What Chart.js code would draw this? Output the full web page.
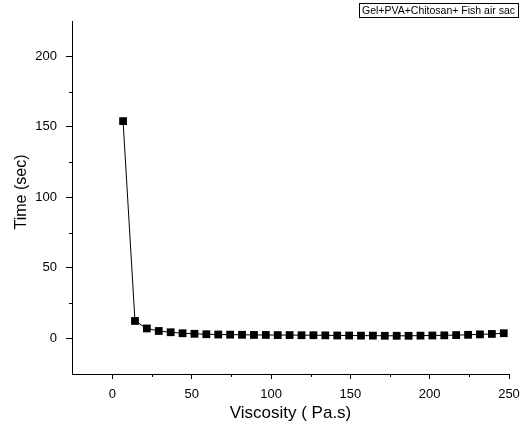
<!DOCTYPE html>
<html>
<head>
<meta charset="utf-8">
<script src="https://cdn.jsdelivr.net/npm/chart.js@4"></script>
<style>
html,body{margin:0;padding:0;background:#fff;}
#wrap{width:521px;height:430px;}
</style>
</head>
<body>
<div id="wrap"><canvas id="c" width="521" height="430"></canvas></div>
<script>
const viscosity = [6.7, 14.2, 21.7, 29.2, 36.7, 44.2, 51.7, 59.2, 66.7, 74.2, 81.7, 89.2, 96.7, 104.2, 111.7, 119.2, 126.7, 134.2, 141.7, 149.2, 156.7, 164.2, 171.7, 179.2, 186.7, 194.2, 201.7, 209.2, 216.7, 224.2, 231.7, 239.2, 246.7];
const timeSec = [154.0, 12.3, 7.0, 5.2, 4.3, 3.6, 3.2, 2.9, 2.7, 2.6, 2.5, 2.4, 2.4, 2.3, 2.3, 2.2, 2.2, 2.1, 2.0, 2.0, 1.9, 1.9, 1.8, 1.8, 1.8, 1.9, 2.0, 2.1, 2.3, 2.5, 2.8, 3.1, 3.6];
const xTicks = [0, 50, 100, 150, 200, 250];
const yTicks = [0, 50, 100, 150, 200];
const xMinor = [25, 75, 125, 175, 225];
const yMinor = [25, 75, 125, 175];
const seriesName = 'Gel+PVA+Chitosan+ Fish air sac';
const xTitle = 'Viscosity ( Pa.s)';
const yTitle = 'Time (sec)';

const FONT = 'Arial, "Liberation Sans", sans-serif';

const extras = {
  id: 'extras',
  afterDraw(chart) {
    const ctx = chart.ctx;
    const xs = chart.scales.x, ys = chart.scales.y;
    const area = chart.chartArea;
    ctx.save();
    ctx.strokeStyle = '#000';
    ctx.lineWidth = 1;
    ctx.beginPath();
    xMinor.forEach(v => {
      const px = Math.round(xs.getPixelForValue(v)) + 0.5;
      ctx.moveTo(px, area.bottom);
      ctx.lineTo(px, area.bottom + 3);
    });
    yMinor.forEach(v => {
      const py = Math.round(ys.getPixelForValue(v)) + 0.5;
      ctx.moveTo(area.left, py);
      ctx.lineTo(area.left - 3, py);
    });
    ctx.stroke();

    // axis titles
    ctx.fillStyle = '#000';
    ctx.font = '17px ' + FONT;
    ctx.textAlign = 'center';
    ctx.textBaseline = 'middle';
    ctx.fillText(xTitle, (area.left + area.right) / 2, 413);
    ctx.save();
    ctx.translate(22, 192);
    ctx.rotate(-Math.PI / 2);
    ctx.font = '16px ' + FONT;
    ctx.fillText(yTitle, 0, 0);
    ctx.restore();

    // legend box
    ctx.font = '10.5px ' + FONT;
    const w = ctx.measureText(seriesName).width;
    const bw = w + 6, bx = 518 - bw, by = 3, bh = 14;
    ctx.strokeStyle = '#000';
    ctx.lineWidth = 1;
    ctx.strokeRect(Math.round(bx) + 0.5, by + 0.5, Math.round(bw), bh);
    ctx.textAlign = 'left';
    ctx.fillText(seriesName, bx + 3, by + bh / 2 + 1);
    ctx.restore();
  }
};

new Chart(document.getElementById('c'), {
  type: 'line',
  data: {
    datasets: [{
      label: seriesName,
      data: viscosity.map((x, i) => ({x: x, y: timeSec[i]})),
      borderColor: '#000',
      backgroundColor: '#000',
      borderWidth: 1,
      pointStyle: 'rect',
      pointRadius: 5.5,
      pointHoverRadius: 5.5,
      pointBackgroundColor: '#000',
      pointBorderColor: '#000',
      pointBorderWidth: 0,
      tension: 0,
      fill: false
    }]
  },
  options: {
    responsive: false,
    animation: false,
    events: [],
    layout: {padding: {top: 21, right: 12, left: 0, bottom: 0}},
    plugins: {legend: {display: false}, tooltip: {enabled: false}, title: {display: false}},
    scales: {
      x: {
        type: 'linear',
        min: -25.5,
        max: 250,
        afterFit: s => { s.height = 56; s.paddingLeft = 0; s.paddingRight = 0; },
        afterBuildTicks: s => { s.ticks = xTicks.map(v => ({value: v})); },
        border: {display: true, color: '#000', width: 1},
        grid: {drawOnChartArea: false, drawTicks: true, tickLength: 5, tickColor: '#000', color: '#000'},
        ticks: {color: '#000', font: {family: FONT, size: 13}, padding: 8, maxRotation: 0}
      },
      y: {
        type: 'linear',
        min: -25.3,
        max: 225,
        afterFit: s => { s.width = 72; s.paddingTop = 0; s.paddingBottom = 0; },
        afterBuildTicks: s => { s.ticks = yTicks.map(v => ({value: v})); },
        border: {display: true, color: '#000', width: 1},
        grid: {drawOnChartArea: false, drawTicks: true, tickLength: 6, tickColor: '#000', color: '#000'},
        ticks: {color: '#000', font: {family: FONT, size: 13}, padding: 9}
      }
    }
  },
  plugins: [extras]
});
</script>
</body>
</html>
